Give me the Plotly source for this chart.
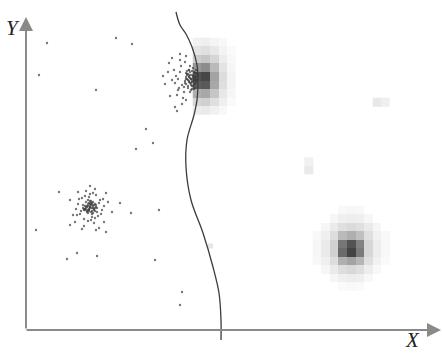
import plotly.graph_objects as go

# Boundary curve (x, y in image-like units; y grows downward)
curve_x = [176, 180, 186, 192, 197, 198, 197, 194, 187, 186, 191, 203, 213, 219, 221, 221]
curve_y = [12, 25, 34, 47, 65, 80, 100, 115, 140, 167, 200, 233, 267, 293, 320, 340]

# Cluster A (lower-left)
ca_x = [90,92,87,94,89,95,85,91,88,93,86,96,84,90,92,88,91,89,93,87,94,86,97,83,90,95,85,92,88,91,
        89,93,87,90,94,86,92,88,96,84,91,89,90,93,87,95,85,92,88,90,
        78,102,80,100,82,98,90,91,76,104,84,96,79,101,88,93,81,99,77,103,85,95,83,97,89,92,86,94,
        73,108,78,104,90,95,70,112,84,99,75,106]
ca_y = [208,205,207,210,203,208,206,212,204,202,209,207,210,201,211,206,204,209,213,211,205,202,208,205,207,211,209,203,213,201,
        210,206,212,204,209,207,214,200,205,209,203,211,207,208,206,204,210,208,210,206,
        204,210,214,200,198,216,194,220,209,206,219,195,199,214,221,193,211,203,215,199,196,218,208,212,197,217,191,223,
        215,202,192,222,186,189,200,212,226,228,222,193]

# Cluster B (upper, next to the boundary)
cb_x = [190,192,188,194,186,196,191,189,193,187,195,185,197,190,192,188,194,186,191,193,189,195,187,198,184,190,196,192,188,194,
        190,186,193,189,195,191,187,197,192,189,
        191,193,189,195,187,194,190,196,188,192,186,197,193,189,191,195,185,190,192,194,
        180,182,178,184,176,181,179,183,175,185,177,186,174,180,182,172,178,
        168,165,170,163,172,175,169,180,186,177]
cb_y = [78,75,80,72,77,82,85,70,79,74,88,81,76,83,71,86,80,73,90,68,77,84,79,75,87,92,70,82,74,89,
        66,84,77,81,73,79,71,80,86,76,
        79,76,82,78,75,84,72,80,88,81,79,73,86,70,83,77,83,75,89,81,
        72,85,79,92,76,66,88,98,83,62,95,100,70,60,104,80,90,
        72,84,96,76,58,107,63,54,56,111]

# Sparse scattered points
sp_x = [47,116,132,39,96,146,153,136,59,120,131,159,36,67,77,97,155,182,180,82,70,106,96]
sp_y = [43,38,44,75,90,129,143,149,192,203,213,210,230,259,253,256,260,292,305,229,225,232,230]

# Density blob 1 (upper, right of boundary)
b1_z = [
    [0.06, 0.07, 0.05, 0.03, None],
    [0.12, 0.14, 0.10, 0.05, 0.02],
    [0.22, 0.25, 0.18, 0.08, 0.03],
    [0.45, 0.50, 0.30, 0.12, 0.04],
    [0.75, 0.80, 0.40, 0.15, 0.05],
    [0.70, 0.72, 0.38, 0.14, 0.05],
    [0.35, 0.38, 0.25, 0.10, 0.04],
    [0.18, 0.20, 0.14, 0.07, 0.02],
    [0.08, 0.09, 0.06, 0.03, None],
]
# Density blob 2 (lower right)
b2_z = [
    [None, None, None, 0.03, 0.04, 0.03, None, None, None],
    [None, None, 0.04, 0.07, 0.08, 0.07, 0.04, None, None],
    [None, 0.04, 0.09, 0.14, 0.16, 0.14, 0.09, 0.04, None],
    [0.03, 0.07, 0.15, 0.30, 0.35, 0.28, 0.14, 0.06, 0.03],
    [0.04, 0.09, 0.20, 0.60, 0.75, 0.55, 0.18, 0.08, 0.03],
    [0.04, 0.09, 0.20, 0.65, 0.82, 0.58, 0.18, 0.08, 0.03],
    [0.03, 0.07, 0.15, 0.35, 0.40, 0.32, 0.14, 0.06, 0.02],
    [None, 0.04, 0.09, 0.15, 0.17, 0.14, 0.08, 0.03, None],
    [None, None, 0.04, 0.07, 0.08, 0.07, 0.03, None, None],
    [None, None, None, 0.02, 0.03, 0.02, None, None, None],
]
# Small isolated cells
s1_z = [[0.10, 0.07]]
s2_z = [[0.06], [0.09]]
s3_z = [[0.11]]

gray = [[0, "#ffffff"], [1, "#1a1a1a"]]

fig = go.Figure()

def hm(z, x0, y0, d=8.5):
    fig.add_trace(go.Heatmap(z=z, x0=x0, dx=d, y0=y0, dy=d, colorscale=gray,
                             zmin=0, zmax=1, showscale=False, hoverinfo="skip"))

hm(b1_z, 197, 42)
hm(b2_z, 317, 210)
hm(s1_z, 377, 102, 8.5)
hm(s2_z, 308.5, 161.5, 8.5)
hm(s3_z, 210.5, 246, 5)

pt = dict(size=2.4, color="rgba(60,60,60,0.7)")
fig.add_trace(go.Scatter(x=sp_x, y=sp_y, mode="markers", marker=pt, hoverinfo="skip"))
fig.add_trace(go.Scatter(x=ca_x, y=ca_y, mode="markers", marker=pt, hoverinfo="skip"))
fig.add_trace(go.Scatter(x=cb_x, y=cb_y, mode="markers", marker=pt, hoverinfo="skip"))
fig.add_trace(go.Scatter(x=curve_x, y=curve_y, mode="lines",
                         line=dict(color="#3c3c3c", width=1.3, shape="spline"), hoverinfo="skip"))

# Axes with arrows
axc = "#8a8a8a"
fig.add_annotation(x=26, y=17, ax=26, ay=330, xref="x", yref="y", axref="x", ayref="y",
                   showarrow=True, arrowhead=2, arrowsize=1.4, arrowwidth=2, arrowcolor=axc, text="")
fig.add_annotation(x=441, y=330, ax=25, ay=330, xref="x", yref="y", axref="x", ayref="y",
                   showarrow=True, arrowhead=2, arrowsize=1.4, arrowwidth=2, arrowcolor=axc, text="")
lab = dict(family="Liberation Serif", size=21, color="#222")
fig.add_annotation(x=13, y=28, xref="x", yref="y", text="<i>Y</i>", showarrow=False, font=lab)
fig.add_annotation(x=412, y=340, xref="x", yref="y", text="<i>X</i>", showarrow=False, font=lab)

fig.update_layout(width=442, height=354, margin=dict(l=0, r=0, t=0, b=0),
                  paper_bgcolor="white", plot_bgcolor="white", showlegend=False,
                  xaxis=dict(range=[0, 442], visible=False, fixedrange=True),
                  yaxis=dict(range=[354, 0], visible=False, fixedrange=True))
fig.write_html("out.html", config={"displayModeBar": False},
               post_script="document.body.style.margin='0';document.body.style.overflow='hidden';")
